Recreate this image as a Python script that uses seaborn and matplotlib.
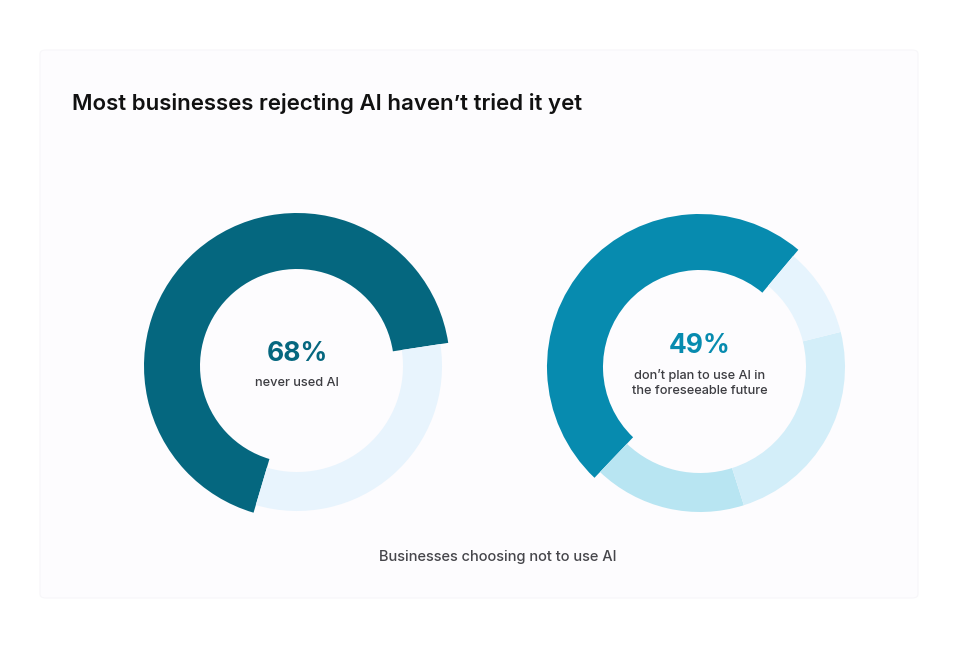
import numpy as np
import pandas as pd

import matplotlib.pyplot as plt
from matplotlib.patches import FancyBboxPatch
import seaborn as sns

# data
left_labels = ['never used AI', 'other']
left_values = [68, 32]
left_colors = ['#05677f', '#e8f4fd']

right_labels = ["don't plan to use AI", 'segment b', 'segment c', 'segment d']
right_values = [49, 17, 24, 10]
right_colors = ['#078baf', '#b8e5f2', '#d3eef9', '#e6f4fd']

title = 'Most businesses rejecting AI haven\u2019t tried it yet'
footer = 'Businesses choosing not to use AI'

sns.set_theme(style='white')
plt.rcParams['font.family'] = ['Inter', 'DejaVu Sans']

W, H = 959, 648
fig = plt.figure(figsize=(W / 100, H / 100), dpi=100)
fig.patch.set_facecolor('white')


def px(x, y):
    '''pixel (from top-left) to figure fraction'''
    return x / W, 1 - y / H


# card background, kept behind the donut axes
card = FancyBboxPatch(px(40, 598), 878 / W, 548 / H,
                      boxstyle='round,pad=0,rounding_size=0.006',
                      transform=fig.transFigure, facecolor='#fdfcfe',
                      edgecolor='#f7f6f9', linewidth=0.8, zorder=-5)
fig.patches.append(card)


def donut(cx, cy, values, colors, startangle, big_label, sub_label, label_color, label_y, sub_y):
    half = 160
    x0, y0 = px(cx - half, cy + half)
    ax = fig.add_axes([x0, y0, 2 * half / W, 2 * half / H])
    wedges, _ = ax.pie(values, colors=colors, startangle=startangle,
                       counterclock=True, radius=145,
                       wedgeprops=dict(width=39, linewidth=0))
    # highlighted segment is thicker
    wedges[0].set_radius(153)
    wedges[0].set_width(56)
    ax.set_xlim(-half, half)
    ax.set_ylim(-half, half)
    ax.set_aspect('equal')
    ax.axis('off')
    fig.text(*px(cx, label_y), big_label, ha='center', va='center',
             fontsize=19, fontweight='bold', color=label_color)
    fig.text(*px(cx, sub_y), sub_label, ha='center', va='center',
             fontsize=9.2, fontweight='medium', color='#3d3d42',
             linespacing=1.35)


donut(297, 366, left_values, left_colors, 8.7,
      f'{left_values[0]}%', 'never used AI', left_colors[0], 354, 383)
donut(700, 367, right_values, right_colors, 50,
      f'{right_values[0]}%', 'don\u2019t plan to use AI in\nthe foreseeable future',
      right_colors[0], 346, 383)

fig.text(*px(72, 104), title, ha='left', va='center', fontsize=16,
         fontweight='semibold', color='#111111')
fig.text(*px(498, 557), footer, ha='center', va='center', fontsize=10.5,
         fontweight='medium', color='#46464b')

fig.savefig('out.png', dpi=100, facecolor='white')
